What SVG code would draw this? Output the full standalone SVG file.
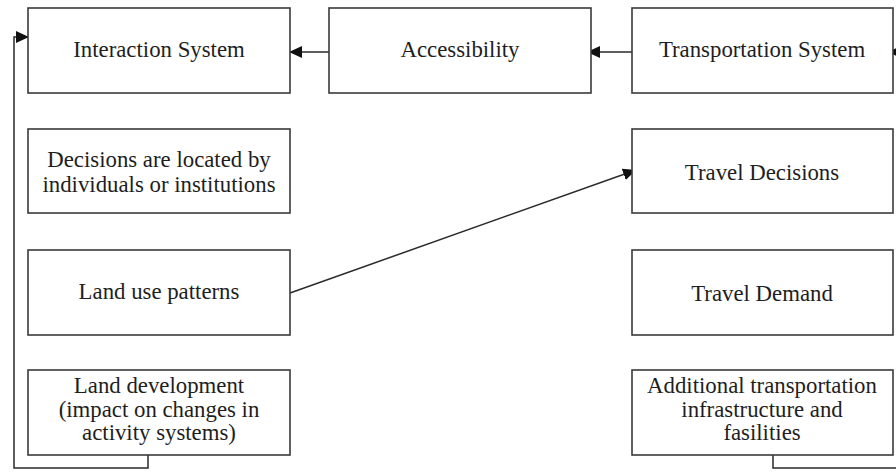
<svg xmlns="http://www.w3.org/2000/svg" width="896" height="473" viewBox="0 0 896 473">
  <style>
    .box { fill: #ffffff; stroke: #3a3a3a; stroke-width: 1.6; }
    .lbl { font-family: "Liberation Serif", "Times New Roman", serif; font-size: 22.8px; fill: #1e1e1e; text-anchor: middle; }
    .edge { fill: none; stroke: #2a2a2a; stroke-width: 1.5; }
  </style>
  <defs>
    <marker id="arrow" markerUnits="userSpaceOnUse" markerWidth="14" markerHeight="13" refX="13" refY="6" orient="auto">
      <path d="M0,0 L13,6 L0,12 z" fill="#111111"/>
    </marker>
  </defs>
  <rect width="896" height="473" fill="#ffffff"/>

  <g id="connectors">
    <path class="edge" d="M329,52 H289" marker-end="url(#arrow)"/>
    <path class="edge" d="M632,52 H587" marker-end="url(#arrow)"/>
    <path class="edge" d="M290,293 L636,170" marker-end="url(#arrow)"/>
    <path class="edge" d="M148,455 V468 H14 V37 H29" marker-end="url(#arrow)"/>
    <path class="edge" d="M773,455 V468 H910 V52 H888" marker-end="url(#arrow)"/>
  </g>

  <g id="interaction-system">
    <rect class="box" x="28" y="8" width="262" height="85"/>
    <text class="lbl" x="159" y="57">Interaction System</text>
  </g>
  <g id="accessibility">
    <rect class="box" x="329" y="8" width="262" height="85"/>
    <text class="lbl" x="460" y="57">Accessibility</text>
  </g>
  <g id="transportation-system">
    <rect class="box" x="632" y="8" width="261" height="85"/>
    <text class="lbl" x="762" y="57">Transportation System</text>
  </g>

  <g id="location-decisions">
    <rect class="box" x="28" y="129" width="262" height="84"/>
    <text class="lbl" x="159" y="167">Decisions are located by</text>
    <text class="lbl" x="159" y="192">individuals or institutions</text>
  </g>
  <g id="travel-decisions">
    <rect class="box" x="632" y="129" width="261" height="84"/>
    <text class="lbl" x="762" y="180">Travel Decisions</text>
  </g>

  <g id="land-use-patterns">
    <rect class="box" x="28" y="250" width="262" height="85"/>
    <text class="lbl" x="159" y="299">Land use patterns</text>
  </g>
  <g id="travel-demand">
    <rect class="box" x="632" y="250" width="261" height="85"/>
    <text class="lbl" x="762" y="301">Travel Demand</text>
  </g>

  <g id="land-development">
    <rect class="box" x="28" y="370" width="262" height="85"/>
    <text class="lbl" x="159" y="393">Land development</text>
    <text class="lbl" x="159" y="417">(impact on changes in</text>
    <text class="lbl" x="159" y="440">activity systems)</text>
  </g>
  <g id="transport-infrastructure">
    <rect class="box" x="632" y="370" width="261" height="85"/>
    <text class="lbl" x="762" y="393">Additional transportation</text>
    <text class="lbl" x="762" y="417">infrastructure and</text>
    <text class="lbl" x="762" y="440">fasilities</text>
  </g>
</svg>
